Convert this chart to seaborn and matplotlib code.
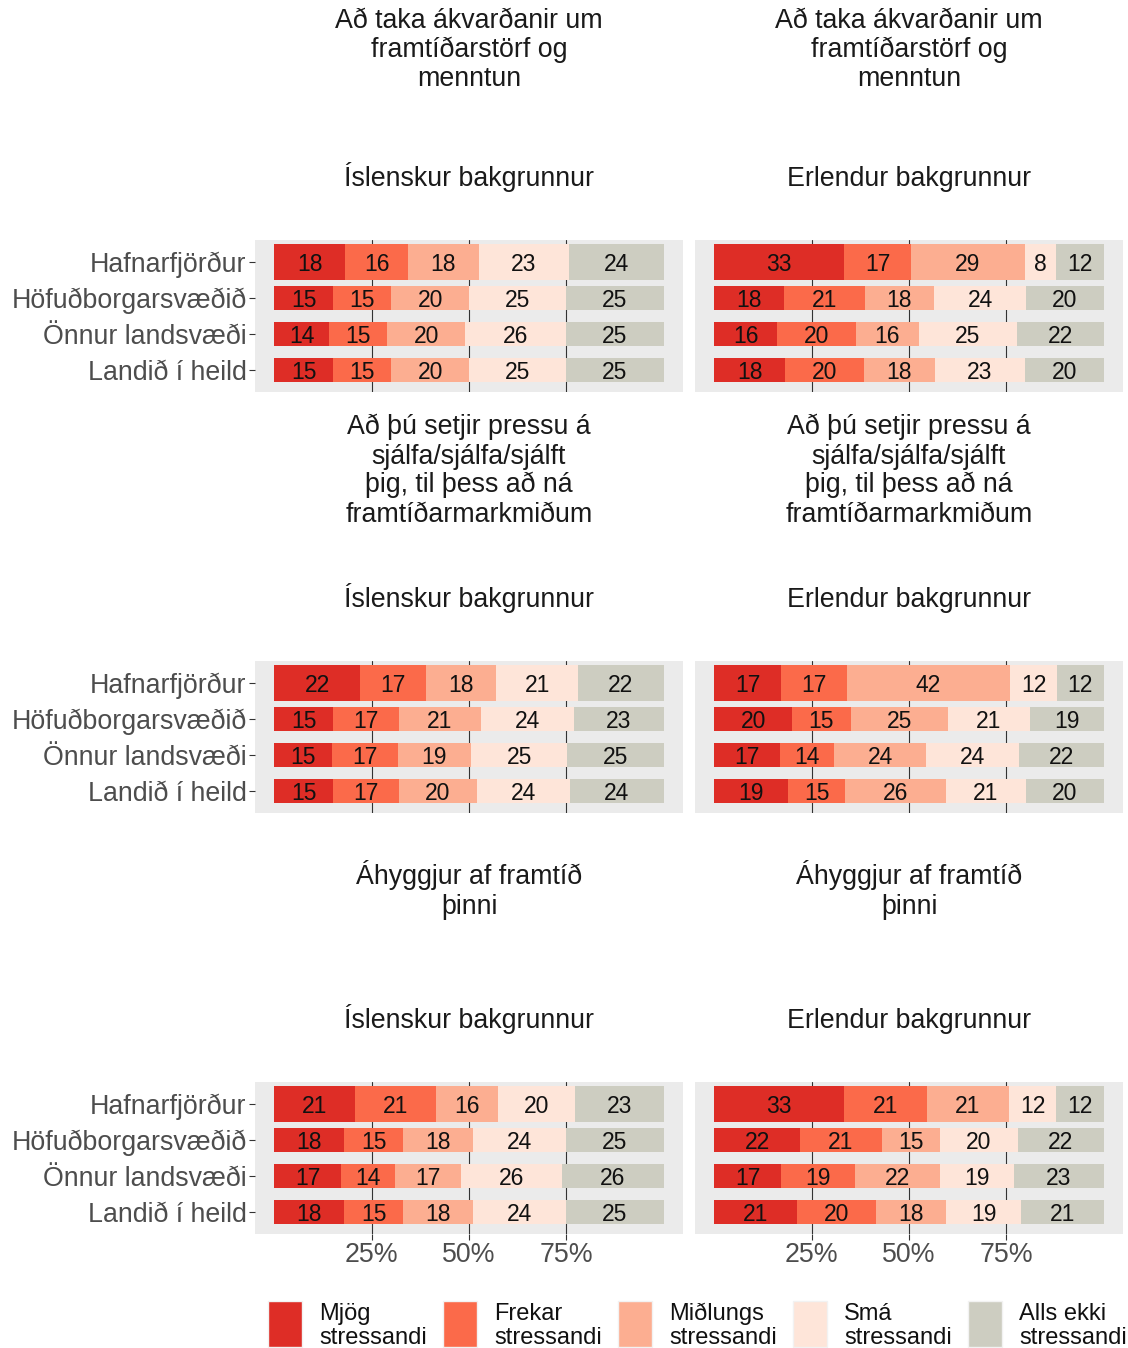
import numpy as np
import pandas as pd
import matplotlib
matplotlib.use('Agg')
import matplotlib.pyplot as plt
import seaborn as sns
from matplotlib.patches import Rectangle

# ---- data (percent, rows = regions, cols = stress levels) ----
regions = ['Hafnarfjörður', 'Höfuðborgarsvæðið', 'Önnur landsvæði', 'Landið í heild']
levels = ['Mjög\nstressandi', 'Frekar\nstressandi', 'Miðlungs\nstressandi',
          'Smá\nstressandi', 'Alls ekki\nstressandi']
level_colors = ['#DE2D26', '#FB6A4A', '#FCAE91', '#FEE5D9', '#CDCDC1']
backgrounds = ['Íslenskur bakgrunnur', 'Erlendur bakgrunnur']
questions = [
    'Að taka ákvarðanir um\nframtíðarstörf og\nmenntun',
    'Að þú setjir pressu á\nsjálfa/sjálfa/sjálft\nþig, til þess að ná\nframtíðarmarkmiðum',
    'Áhyggjur af framtíð\nþinni',
]

nam_isl = [[18, 16, 18, 23, 24], [15, 15, 20, 25, 25], [14, 15, 20, 26, 25], [15, 15, 20, 25, 25]]
nam_erl = [[33, 17, 29, 8, 12], [18, 21, 18, 24, 20], [16, 20, 16, 25, 22], [18, 20, 18, 23, 20]]
pressa_isl = [[22, 17, 18, 21, 22], [15, 17, 21, 24, 23], [15, 17, 19, 25, 25], [15, 17, 20, 24, 24]]
pressa_erl = [[17, 17, 42, 12, 12], [20, 15, 25, 21, 19], [17, 14, 24, 24, 22], [19, 15, 26, 21, 20]]
ahyggjur_isl = [[21, 21, 16, 20, 23], [18, 15, 18, 24, 25], [17, 14, 17, 26, 26], [18, 15, 18, 24, 25]]
ahyggjur_erl = [[33, 21, 21, 12, 12], [22, 21, 15, 20, 22], [17, 19, 22, 19, 23], [21, 20, 18, 19, 21]]

panel_data = [[nam_isl, nam_erl], [pressa_isl, pressa_erl], [ahyggjur_isl, ahyggjur_erl]]

# ---- style ----
sns.set_theme(style='darkgrid', rc={
    'axes.facecolor': '#EBEBEB',
    'grid.color': '#333333',
    'grid.linewidth': 0.8,
})
plt.rcParams['font.family'] = ['Liberation Sans', 'DejaVu Sans']

W, H = 1128, 1348
fig = plt.figure(figsize=(W / 100, H / 100), dpi=100)

col_x = [255, 695]
row_top = [240, 661, 1082]
pw, ph = 428, 152


def fy(px):
    return 1 - px / H


def draw_panel(ax, values, show_y, show_x):
    vals = np.array(values, dtype=float)
    shares = vals / vals.sum(axis=1, keepdims=True) * 100
    ends = shares.cumsum(axis=1)
    # overlapping bars, longest cumulative first -> stacked look
    for j in range(len(levels) - 1, -1, -1):
        sns.barplot(x=ends[:, j], y=regions, order=regions, orient='h',
                    color=level_colors[j], width=0.66, saturation=1,
                    errorbar=None, linewidth=0, ax=ax)
    # first region drawn as a thicker bar
    for p in ax.patches:
        if abs(p.get_y() + p.get_height() / 2) < 1e-6:
            p.set_y(-0.5)
            p.set_height(1.0)
    for i in range(len(regions)):
        for j in range(len(levels)):
            ax.text(ends[i, j] - shares[i, j] / 2, i, f'{int(vals[i, j])}',
                    ha='center', va='center_baseline', fontsize=16.5, color='#111111')

    ax.set_xlim(-5, 105)
    ax.set_ylim(3.6, -0.6)
    ax.set_xticks([25, 50, 75])
    ax.set_xticklabels(['25%', '50%', '75%'])
    ax.grid(axis='x', visible=True)
    ax.grid(axis='y', visible=False)
    ax.set_axisbelow(True)
    ax.set_xlabel('')
    ax.set_ylabel('')
    for s in ax.spines.values():
        s.set_visible(False)
    ax.tick_params(axis='y', left=show_y, labelleft=show_y, length=4, width=0.8,
                   color='#333333', labelcolor='#4D4D4D', labelsize=19.3, pad=2)
    ax.tick_params(axis='x', bottom=show_x, labelbottom=show_x, length=4, width=0.8,
                   color='#333333', labelcolor='#4D4D4D', labelsize=19.3, pad=1.5)


for r in range(3):
    for c in range(2):
        x0, top = col_x[c], row_top[r]
        ax = fig.add_axes([x0 / W, fy(top + ph), pw / W, ph / H])
        draw_panel(ax, panel_data[r][c], show_y=(c == 0), show_x=(r == 2))
        cx = (x0 + pw / 2) / W
        lines = questions[r].split('\n')
        n = len(lines)
        for i, line in enumerate(lines):
            base = top - 183 + (i - (n - 1) / 2) * 29
            fig.text(cx, fy(base), line, ha='center', va='baseline',
                     fontsize=19.3, color='#1A1A1A')
        fig.text(cx, fy(top - 54.5), backgrounds[c], ha='center', va='baseline',
                 fontsize=19.3, color='#1A1A1A')

# ---- legend (keys + two-line labels) ----
for k, (lab, col) in enumerate(zip(levels, level_colors)):
    lx = 268 + 175 * k
    fig.add_artist(Rectangle((lx / W, fy(1347)), 34 / W, 46 / H,
                             transform=fig.transFigure, facecolor=col,
                             edgecolor='#F2F2F2', linewidth=1))
    for i, line in enumerate(lab.split('\n')):
        fig.text((lx + 51) / W, fy(1320 + 24 * i), line, ha='left', va='baseline',
                 fontsize=17, color='#111111')

fig.savefig('out.png', dpi=100)
